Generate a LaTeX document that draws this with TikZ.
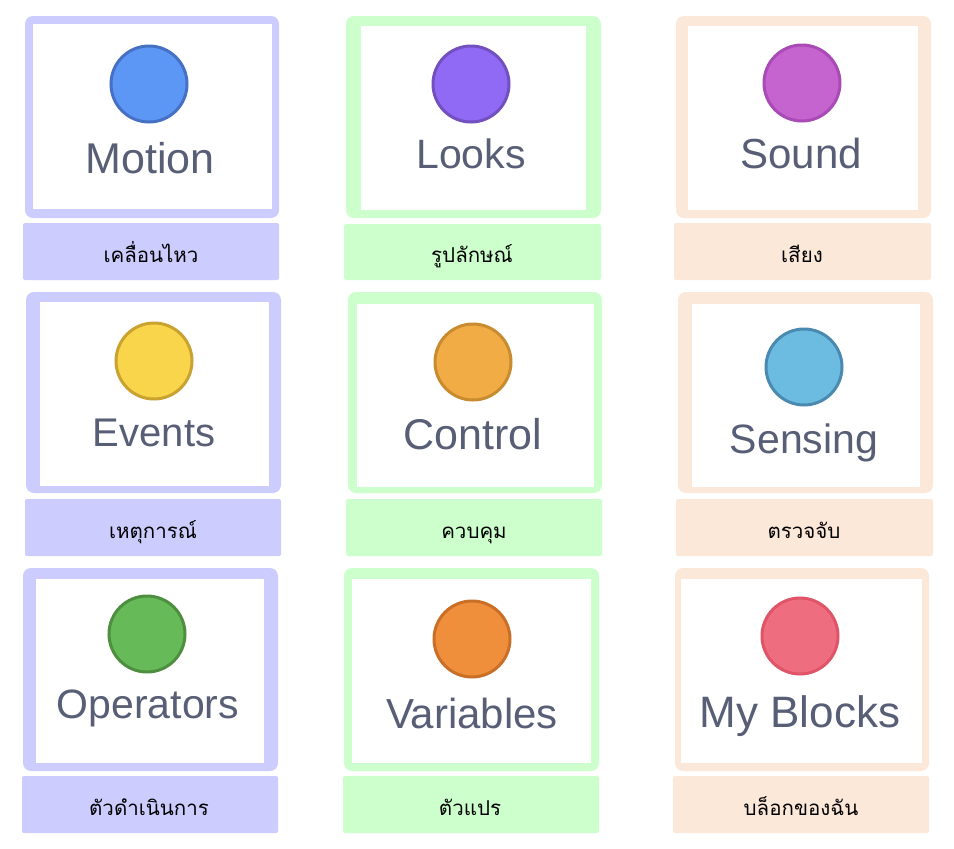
\documentclass[tikz,border=0pt]{standalone}
\usepackage{fontspec}
\setmainfont{Liberation Sans}
\newfontfamily\thaifont[Script=Thai]{Loma}
\definecolor{lav}{HTML}{CCCCFF}
\definecolor{mint}{HTML}{CCFFCC}
\definecolor{peach}{HTML}{FCE8D9}
\definecolor{txt}{HTML}{575E75}
\definecolor{motionF}{HTML}{5C97F6}\definecolor{motionD}{HTML}{4570C4}
\definecolor{looksF}{HTML}{9069F5}\definecolor{looksD}{HTML}{7350C0}
\definecolor{soundF}{HTML}{C564CF}\definecolor{soundD}{HTML}{A94AB6}
\definecolor{eventsF}{HTML}{F8D54B}\definecolor{eventsD}{HTML}{C9A230}
\definecolor{controlF}{HTML}{F2AC45}\definecolor{controlD}{HTML}{C88B30}
\definecolor{sensingF}{HTML}{6CBCE1}\definecolor{sensingD}{HTML}{4A8AB0}
\definecolor{operF}{HTML}{67BA58}\definecolor{operD}{HTML}{4E8F3F}
\definecolor{varF}{HTML}{EF8F3C}\definecolor{varD}{HTML}{C96F27}
\definecolor{myF}{HTML}{EE6E80}\definecolor{myD}{HTML}{E05468}
\begin{document}
\begin{tikzpicture}[x=1pt,y=-1pt,
  frame/.style={fill=#1, rounded corners=8pt},
  innerbox/.style={fill=white},
  labbox/.style={fill=#1, rounded corners=2pt},
  dot/.style 2 args={circle, fill=#1, draw=#2, line width=3pt, inner sep=0pt, minimum size=76pt},
  title/.style={text=txt, anchor=base, inner sep=0pt, font=\fontsize{#1}{#1}\selectfont},
  thai/.style={text=black, anchor=base, inner sep=0pt, font=\thaifont\fontsize{20.5}{20.5}\selectfont}]
\useasboundingbox (0,0) rectangle (954,849);
\fill[white] (0,0) rectangle (954,849);

% ---------- Row 1 ----------
\fill[frame=lav] (25,16) rectangle (279,218);
\fill[innerbox] (33,24) rectangle (272,209);
\fill[labbox=lav] (23,223) rectangle (279,280);
\node[dot={motionF}{motionD}] (cMotion) at (149,84) {};
\node[title=43] (tMotion) at (150,173) {Motion};
\node[thai] (lMotion) at (151,262) {เคลื่อนไหว};

\fill[frame=mint] (346,16) rectangle (601,218);
\fill[innerbox] (361,26) rectangle (586,210);
\fill[labbox=mint] (344,224) rectangle (601,280);
\node[dot={looksF}{looksD}] (cLooks) at (471,84) {};
\node[title=41] (tLooks) at (471,168) {Looks};
\node[thai] (lLooks) at (472,262) {รูปลักษณ์};

\fill[frame=peach] (676,16) rectangle (931,218);
\fill[innerbox] (688,26) rectangle (918,210);
\fill[labbox=peach] (674,223) rectangle (931,280);
\node[dot={soundF}{soundD}] (cSound) at (802,83) {};
\node[title=42] (tSound) at (801,168) {Sound};
\node[thai] (lSound) at (802,262) {เสียง};

% ---------- Row 2 ----------
\fill[frame=lav] (26,292) rectangle (281,493);
\fill[innerbox] (40,302) rectangle (269,486);
\fill[labbox=lav] (25,499) rectangle (281,556);
\node[dot={eventsF}{eventsD}] (cEvents) at (154,361) {};
\node[title=40] (tEvents) at (154,446) {Events};
\node[thai] (lEvents) at (153,538) {เหตุการณ์};

\fill[frame=mint] (348,292) rectangle (602,493);
\fill[innerbox] (357,304) rectangle (594,487);
\fill[labbox=mint] (346,499) rectangle (602,556);
\node[dot={controlF}{controlD}] (cControl) at (473,362) {};
\node[title=43] (tControl) at (473,449) {Control};
\node[thai] (lControl) at (474,538) {ควบคุม};

\fill[frame=peach] (678,292) rectangle (933,493);
\fill[innerbox] (692,304) rectangle (920,487);
\fill[labbox=peach] (676,499) rectangle (933,556);
\node[dot={sensingF}{sensingD}] (cSensing) at (804,367) {};
\node[title=41] (tSensing) at (804,453) {Sensing};
\node[thai] (lSensing) at (804,538) {ตรวจจับ};

% ---------- Row 3 ----------
\fill[frame=lav] (23,568) rectangle (278,771);
\fill[innerbox] (36,579) rectangle (264,763);
\fill[labbox=lav] (22,776) rectangle (278,833);
\node[dot={operF}{operD}] (cOper) at (147,634) {};
\node[title=41] (tOper) at (148,718) {Operators};
\node[thai] (lOper) at (149,815) {ตัวดำเนินการ};

\fill[frame=mint] (344,568) rectangle (599,771);
\fill[innerbox] (352,579) rectangle (591,763);
\fill[labbox=mint] (343,776) rectangle (599,833);
\node[dot={varF}{varD}] (cVar) at (472,639) {};
\node[title=42] (tVar) at (472,728) {Variables};
\node[thai] (lVar) at (470,815) {ตัวแปร};

\fill[frame=peach] (675,568) rectangle (929,771);
\fill[innerbox] (681,579) rectangle (922,763);
\fill[labbox=peach] (673,776) rectangle (929,833);
\node[dot={myF}{myD}] (cMy) at (800,636) {};
\node[title=44] (tMy) at (800,727) {My Blocks};
\node[thai] (lMy) at (801,815) {บล็อกของฉัน};
\end{tikzpicture}
\end{document}
